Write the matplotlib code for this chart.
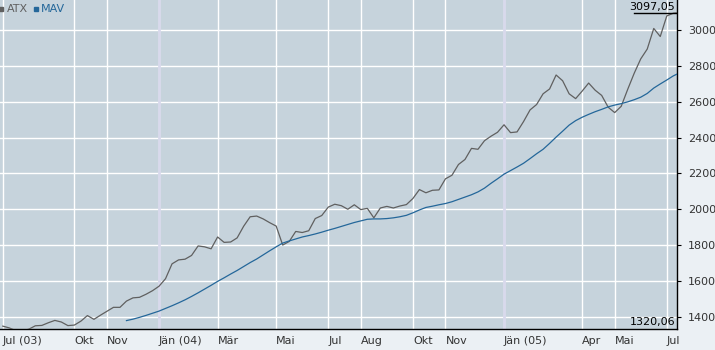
import matplotlib
matplotlib.use("Agg")
import matplotlib.pyplot as plt
import matplotlib.dates as mdates
from matplotlib.lines import Line2D
import pandas as pd

# weekly closing values (Fridays) + last quote
first_week = "2003-07-18"
last_day = "2005-07-12"

atx = [1347, 1337, 1322, 1320.06, 1330, 1349, 1351, 1366, 1379, 1370,
       1350, 1353, 1375, 1406, 1385, 1408, 1430, 1452, 1452, 1487,
       1505, 1508, 1525, 1545, 1570, 1612, 1695, 1717, 1721, 1742,
       1795, 1790, 1779, 1845, 1815, 1817, 1840, 1905, 1958, 1962,
       1946, 1925, 1906, 1800, 1820, 1876, 1870, 1880, 1948, 1965,
       2012, 2028, 2020, 2000, 2025, 1998, 2005, 1952, 2007, 2016,
       2007, 2018, 2026, 2060, 2110, 2092, 2106, 2108, 2170, 2190,
       2250, 2278, 2340, 2335, 2383, 2408, 2430, 2472, 2428, 2432,
       2490, 2555, 2585, 2645, 2672, 2750, 2718, 2645, 2618, 2660,
       2705, 2665, 2636, 2570, 2540, 2575, 2670, 2760, 2840, 2895,
       3010, 2965, 3080, 3095, 3097.05]

# moving average, starts with week 19 (end of Nov 2003)
mav_start = 19
mav = [1378, 1386, 1396, 1407, 1419, 1431, 1446, 1461, 1477, 1494,
       1513, 1533, 1554, 1575, 1597, 1617, 1638, 1658, 1680, 1702,
       1722, 1745, 1768, 1790, 1811, 1823, 1834, 1845, 1853, 1862,
       1872, 1883, 1893, 1904, 1915, 1926, 1935, 1944, 1946, 1946,
       1948, 1952, 1958, 1966, 1980, 1996, 2010, 2017, 2025, 2032,
       2042, 2055, 2068, 2081, 2097, 2118, 2145, 2170, 2196, 2216,
       2236, 2257, 2283, 2310, 2335, 2368, 2403, 2436, 2470, 2495,
       2514, 2530, 2545, 2558, 2572, 2582, 2590, 2600, 2612, 2626,
       2647, 2677, 2700, 2722, 2745, 2755]

tick_dates = ["2003-07-18", "2003-10-03", "2003-11-07", "2004-01-02",
              "2004-03-05", "2004-05-07", "2004-07-02", "2004-08-06",
              "2004-10-01", "2004-11-05", "2005-01-07", "2005-04-01",
              "2005-05-06", "2005-07-01"]
tick_labels = ["Jul (03)", "Okt", "Nov", "Jän (04)", "Mär", "Mai", "Jul",
               "Aug", "Okt", "Nov", "Jän (05)", "Apr", "Mai", "Jul"]
year_ticks = ["2004-01-02", "2005-01-07"]
yticks = [1400, 1600, 1800, 2000, 2200, 2400, 2600, 2800, 3000]

dates = list(pd.date_range(first_week, periods=len(atx) - 1, freq="7D"))
dates.append(pd.Timestamp(last_day))

plt.rcParams['font.family'] = ['DejaVu Sans']
plt.rcParams['font.size'] = 8

fig = plt.figure(figsize=(7.15, 3.5), dpi=100, facecolor="#ebf0f4")
ax = fig.add_axes([0.0, 21 / 350, 677 / 715, 329 / 350])
ax.set_facecolor("#c6d3dc")

ax.plot(dates, atx, color="#606060", lw=0.9, zorder=3)
ax.plot(dates[mav_start:], mav, color="#24679a", lw=0.9, zorder=3)

ax.set_xlim(pd.Timestamp("2003-07-15"), pd.Timestamp(last_day))
ax.set_ylim(1331, 3169)

ax.set_xticks([mdates.date2num(pd.Timestamp(d)) for d in tick_dates])
ax.set_xticklabels(tick_labels, ha="left")
ax.set_yticks(yticks)
ax.yaxis.tick_right()

ax.grid(True, color="white", lw=1.0, zorder=1)
for d in year_ticks:
    ax.axvline(pd.Timestamp(d), color="#d8d9ec", lw=2.0, zorder=2)

for s in ["left", "top"]:
    ax.spines[s].set_visible(False)
for s in ["right", "bottom"]:
    ax.spines[s].set_color("black")
    ax.spines[s].set_linewidth(1.0)

ax.tick_params(axis="x", length=0, pad=5, colors="#333333", labelsize=8)
ax.tick_params(axis="y", length=3, width=0.8, pad=5, colors="black",
               labelcolor="#333333", labelsize=8)

# max / min labels
hi = max(atx)
lo = min(atx)
ax.text(0.997, 0.979, f"{hi:.2f}".replace(".", ","), transform=ax.transAxes,
        ha="right", va="center", fontsize=8, color="black", zorder=5)
ax.add_line(Line2D([0.936, 1.0], [0.961, 0.961], transform=ax.transAxes,
                   color="black", lw=1.0, zorder=5))
ax.text(0.997, 0.022, f"{lo:.2f}".replace(".", ","), transform=ax.transAxes,
        ha="right", va="center", fontsize=8, color="black", zorder=5)

# legend
ly = 1 - 9 / 350
fig.add_artist(Line2D([1 / 715], [ly], marker="s", ms=2.5, color="#606060", lw=0))
fig.text(7 / 715, ly, "ATX", ha="left", va="center", color="#606060", fontsize=8)
fig.add_artist(Line2D([36 / 715], [ly], marker="s", ms=2.5, color="#24679a", lw=0))
fig.text(41 / 715, ly, "MAV", ha="left", va="center", color="#24679a", fontsize=8)

fig.savefig("out.png", dpi=100, facecolor=fig.get_facecolor())
